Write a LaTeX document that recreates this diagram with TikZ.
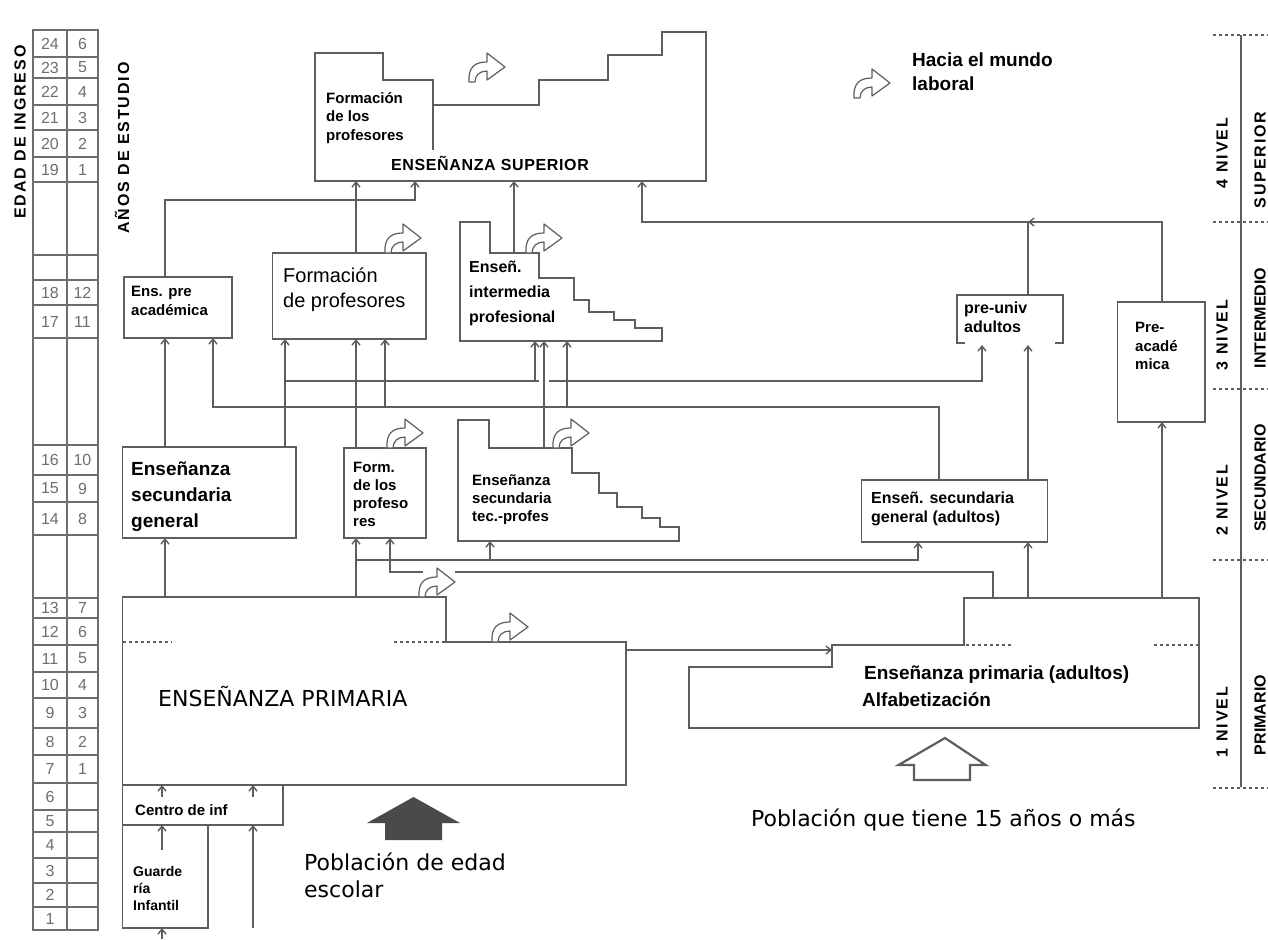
\documentclass[tikz,border=0pt]{standalone}
\usepackage{fontspec}
\setmainfont{Liberation Sans}
\newfontfamily\dvfont{DejaVu Sans}
\usetikzlibrary{arrows.meta}
\definecolor{lc}{HTML}{5E5E5E}
\definecolor{nc}{HTML}{6E6E6E}
\definecolor{af}{HTML}{4A4A4A}
\tikzset{
 curl/.pic={\draw[lc, line width=1.2pt, fill=white, line join=round] (0,0) .. controls (-1,-15) and (6,-20) .. (18,-20) -- (18,-29) -- (36,-15) -- (18,-2) -- (18,-11) .. controls (11,-11) and (6,-7) .. (6,0) -- cycle;}
}
\begin{document}
\begin{tikzpicture}[x=1pt,y=-1pt,
 ln/.style={draw=lc, line width=1.6pt, line join=miter},
 box/.style={draw=lc, line width=1.6pt, inner sep=0pt, outer sep=0pt, anchor=north west},
 con/.style={draw=lc, line width=1.4pt},
 arr/.style={draw=lc, line width=1.4pt, -{Straight Barb[length=5pt,width=8pt]}},
 tab/.style={draw=nc, line width=1.3pt},
 num/.style={inner sep=0pt, text=nc, font=\fontsize{16}{16}\selectfont},
 tl/.style={inner sep=0pt, anchor=north west, align=left, text=black},
 vl/.style={inner sep=0pt, text=black, font=\fontsize{16}{16}\selectfont\bfseries},
 vs/.style={inner sep=0pt, text=black, font=\fontsize{16}{16}\selectfont\bfseries\addfontfeatures{LetterSpace=12}},
 fa/.style={font=\fontsize{15}{18.5}\selectfont\bfseries},
 fb/.style={font=\fontsize{20}{25}\selectfont},
 fc/.style={font=\fontsize{19}{26}\selectfont\bfseries},
 fd/.style={font=\fontsize{16}{19}\selectfont\bfseries},
 fe/.style={font=\fontsize{16}{25}\selectfont\bfseries},
 big/.style={font=\dvfont\fontsize{22}{27}\selectfont},
]
\useasboundingbox (0,0) rectangle (1268,939);
\fill[white] (0,0) rectangle (1268,939);

% ---------- age / years table ----------
\draw[tab] (33,30) rectangle (98,930);
\draw[tab] (67,30) -- (67,930);
\foreach \y in {57,78,105,130,157,182,255,280,305,338,445,475,502,535,598,618,645,672,698,728,755,783,810,832,858,883,907}
  \draw[tab] (33,\y) -- (98,\y);
\foreach \a/\b/\y [count=\i] in {24/6/43.5, 23/5/67.5, 22/4/91.5, 21/3/117.5, 20/2/143.5, 19/1/169.5, 18/12/292.5, 17/11/321.5, 16/10/460, 15/9/488.5, 14/8/518.5, 13/7/608, 12/6/631.5, 11/5/658.5, 10/4/685, 9/3/713, 8/2/741.5, 7/1/769, 6//796.5, 5//821, 4//845, 3//870.5, 2//895, 1//918.5}
  {\node[num] (age\i) at (50,\y) {\a}; \node[num] (yr\i) at (82.5,\y) {\b};}
\node[vs, rotate=90] (edad) at (20,132) {EDAD DE INGRESO};
\node[vs, rotate=90] (anos) at (122,148) {AÑOS DE ESTUDIO};

% ---------- right level scale ----------
\draw[ln] (1241,35) -- (1241,787);
\foreach \y in {35,222,389,560,788} \draw[lc, line width=1.2pt, dashed] (1213,\y) -- (1268,\y);
\node[vs, rotate=90] (n4) at (1222,153) {4 NIVEL};
\node[vs, rotate=90] (c4) at (1260,160) {SUPERIOR};
\node[vs, rotate=90] (n3) at (1222,335) {3 NIVEL};
\node[vl, rotate=90] (c3) at (1260,318) {INTERMEDIO};
\node[vs, rotate=90] (n2) at (1222,500) {2 NIVEL};
\node[vl, rotate=90] (c2) at (1260,478) {SECUNDARIO};
\node[vs, rotate=90] (n1) at (1222,722) {1 NIVEL};
\node[vl, rotate=90] (c1) at (1260,715) {PRIMARIO};

% ---------- higher education ----------
\draw[ln] (315,53) -- (383,53) -- (383,80) -- (433,80) -- (433,105) -- (539,105) -- (539,80) -- (608,80) -- (608,55) -- (662,55) -- (662,32) -- (706,32) -- (706,181) -- (315,181) -- cycle;
\draw[ln] (433,105) -- (433,150);
\coordinate (sup) at (315,181);
\node[tl, fa] (t-fps) at (326,92) {Formación\\de los\\profesores};
\node[inner sep=0pt, font=\fontsize{16}{19}\selectfont\bfseries\addfontfeatures{LetterSpace=4}] (t-sup) at (490,163) {ENSEÑANZA SUPERIOR};
\node[tl, font=\fontsize{19}{24}\selectfont\bfseries] (t-hacia) at (912,53) {Hacia el mundo\\laboral};

% ---------- intermediate level ----------
\node[box, minimum width=108, minimum height=61] (pa) at (124,277) {};
\node[tl, fa] (t-pa) at (131,286) {Ens. pre\\académica};
\node[box, minimum width=153.5, minimum height=86] (fp) at (272.5,253) {};
\node[tl, fb] (t-fp) at (283,268) {Formación\\de profesores};
\draw[ln] (460,222) -- (490,222) -- (490,253) -- (539,253) -- (539,278) -- (574,278) -- (574,300) -- (589,300) -- (589,312) -- (614,312) -- (614,320) -- (635,320) -- (635,328) -- (662,328) -- (662,341) -- (460,341) -- cycle;
\coordinate (istop) at (514,253);
\coordinate (isbot) at (460,341);
\node[tl, fe] (t-is) at (469,261) {Enseñ.\\intermedia\\profesional};
\draw[ln] (965,343) -- (957,343) -- (957,295) -- (1063,295) -- (1063,343) -- (1055,343);
\coordinate (putop) at (957,295);
\coordinate (pubot) at (957,345);
\node[tl, fd] (t-pu) at (964,302) {pre-univ\\adultos};
\node[box, minimum width=87.5, minimum height=120] (pr) at (1117.5,302) {};
\node[tl, fa] (t-pr) at (1135,322) {Pre-\\acadé\\mica};

% ---------- secondary level ----------
\node[box, minimum width=173.5, minimum height=91] (sg) at (122.5,447) {};
\node[tl, fc] (t-sg) at (131,462) {Enseñanza\\secundaria\\general};
\node[box, minimum width=82, minimum height=90] (flp) at (344,448) {};
\node[tl, font=\fontsize{15}{18}\selectfont\bfseries] (t-flp) at (353,462) {Form.\\de los\\profeso\\res};
\draw[ln] (458,420) -- (489,420) -- (489,448) -- (572,448) -- (572,473) -- (599,473) -- (599,493) -- (617,493) -- (617,507) -- (642,507) -- (642,518) -- (660,518) -- (660,527) -- (679,527) -- (679,541) -- (458,541) -- cycle;
\coordinate (tstop) at (489,448);
\coordinate (tsbot) at (458,541);
\node[tl, font=\fontsize{15}{18}\selectfont\bfseries] (t-ts) at (472,474) {Enseñanza\\secundaria\\tec.-profes};
\node[box, minimum width=186, minimum height=62] (as) at (861.6,480) {};
\node[tl, fd] (t-as) at (871,492) {Enseñ. secundaria\\general (adultos)};

% ---------- primary level ----------
\draw[ln] (122.5,597) -- (446,597) -- (446,642) -- (626,642) -- (626,785) -- (122.5,785) -- cycle;
\coordinate (primtop) at (122.5,597);
\draw[lc, line width=1.3pt, dashed] (122.5,642) -- (172,642);
\draw[lc, line width=1.3pt, dashed] (394,642) -- (446,642);
\node[inner sep=0pt, anchor=west, big] (t-prim) at (158,697) {ENSEÑANZA PRIMARIA};
\node[box, minimum width=160.5, minimum height=40] (ci) at (122.5,785) {};
\node[inner sep=0pt, anchor=west, font=\fontsize{15}{15}\selectfont\bfseries] (t-ci) at (135,810) {Centro de inf};
\node[box, minimum width=85.5, minimum height=103] (gi) at (122.5,825) {};
\node[tl, font=\fontsize{14}{17}\selectfont\bfseries] (t-gi) at (133,866) {Guarde\\ría\\Infantil};

\draw[ln] (964,598) -- (1199,598) -- (1199,728) -- (689,728) -- (689,667) -- (832,667) -- (832,645) -- (964,645) -- cycle;
\coordinate (aptop) at (964,598);
\coordinate (apleft) at (832,650);
\draw[lc, line width=1.3pt, dashed] (966,645) -- (1011,645);
\draw[lc, line width=1.3pt, dashed] (1154,645) -- (1199,645);
\node[inner sep=0pt, anchor=west, font=\fontsize{19}{19}\selectfont\bfseries] (t-ap) at (864,675) {Enseñanza primaria (adultos)};
\node[inner sep=0pt, anchor=west, font=\fontsize{19}{19}\selectfont\bfseries] (t-alf) at (862,700) {Alfabetización};

% ---------- population arrows ----------
\fill[af] (385,840) -- (385,823) -- (367,823) -- (413.5,797) -- (460,823) -- (442,823) -- (442,840) -- cycle;
\node[tl, big] (t-pe) at (304,853) {Población de edad\\escolar};
\draw[lc, line width=2.2pt] (914,780) -- (914,765) -- (898.5,765) -- (945,738) -- (985.7,765) -- (970,765) -- (970,780) -- cycle;
\node[inner sep=0pt, anchor=west, big] (t-pa15) at (751,820) {Población que tiene 15 años o más};

% ---------- connectors ----------
\draw[arr] (165,0 |- pa.north) -- (165,200) -- (415,200) -- (415,0 |- sup);
\draw[arr] (356,0 |- fp.north) -- (356,0 |- sup);
\draw[arr] (istop) -- (514,0 |- sup);
\draw[arr] (1162,0 |- pr.north) -- (1162,222) -- (1028,222);
\draw[arr] (1028,0 |- putop) -- (1028,222) -- (642,222) -- (642,0 |- sup);

\draw[arr] (165,0 |- primtop) -- (165,0 |- sg.south);
\draw[arr] (165,0 |- sg.north) -- (165,0 |- pa.south);
\draw[arr] (285,0 |- sg.north) -- (285,0 |- fp.south);
\draw[con] (285,381) -- (539,381);
\draw[arr] (535,381) -- (535,0 |- isbot);
\draw[arr] (549,381) -- (982,381) -- (982,0 |- pubot);
\draw[arr] (939,0 |- as.north) -- (939,407) -- (213,407) -- (213,0 |- pa.south);
\draw[arr] (385,407) -- (385,0 |- fp.south);
\draw[arr] (567,407) -- (567,0 |- isbot);
\draw[arr] (544,0 |- tstop) -- (544,0 |- isbot);
\draw[arr] (356,0 |- flp.north) -- (356,0 |- fp.south);

\draw[arr] (356,0 |- primtop) -- (356,0 |- flp.south);
\draw[arr] (356,560) -- (918,560) -- (918,0 |- as.south);
\draw[arr] (490,560) -- (490,0 |- tsbot);
\draw[con] (993,0 |- aptop) -- (993,572) -- (455,572);
\draw[arr] (423,572) -- (390,572) -- (390,0 |- flp.south);
\draw[arr] (1028,0 |- aptop) -- (1028,0 |- as.south);
\draw[arr] (1028,0 |- as.north) -- (1028,0 |- pubot);
\draw[arr] (1162,0 |- aptop) -- (1162,0 |- pr.south);
\draw[arr] (626,650) -- (apleft);

\draw[arr] (162,797) -- (162,0 |- ci.north);
\draw[arr] (253,797) -- (253,0 |- ci.north);
\draw[arr] (162,850) -- (162,0 |- gi.north);
\draw[arr] (253,928) -- (253,0 |- ci.south);
\draw[arr] (162,939) -- (162,0 |- gi.south);

% ---------- "towards the labour market" arrows ----------
\pic at (469,82) {curl};
\pic at (854,98) {curl};
\pic at (385,253) {curl};
\pic at (526,253) {curl};
\pic at (387,448) {curl};
\pic at (553,448) {curl};
\pic at (419,597) {curl};
\pic at (492,642) {curl};
\end{tikzpicture}
\end{document}
